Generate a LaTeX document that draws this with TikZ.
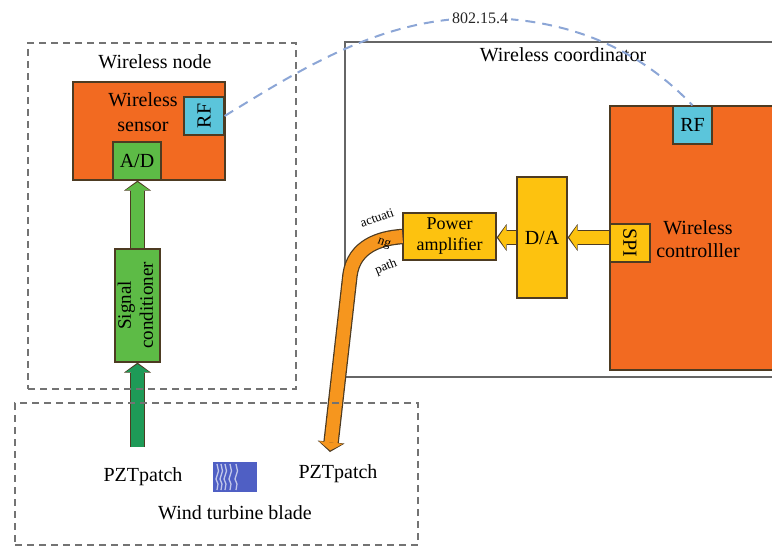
\documentclass[tikz,border=0pt]{standalone}
\usepackage{fontspec}
\setmainfont{Liberation Serif}
\usetikzlibrary{arrows.meta,positioning,calc}
\definecolor{orng}{HTML}{F26A21}
\definecolor{rfc}{HTML}{5BC5DB}
\definecolor{grn}{HTML}{5DBB46}
\definecolor{dgrn}{HTML}{1E9A57}
\definecolor{ylw}{HTML}{FDC20F}
\definecolor{pathc}{HTML}{F6961E}
\definecolor{edge}{HTML}{4D3B22}
\definecolor{wave}{HTML}{8CA6D6}
\definecolor{patch}{HTML}{4F5FC4}
\tikzset{
  blk/.style={draw=edge,fill=#1,line width=1.2pt,inner sep=0pt,align=center,
              font=\fontsize{20}{23}\selectfont},
  grp/.style={draw=black!55,line width=1.6pt,dash pattern=on 7pt off 5pt},
  fat/.style={draw=edge,line width=15.5pt,-{Triangle[width=27pt,length=10pt,line width=0pt]},
              postaction={draw=#1,line width=13pt,shorten >=1.6pt,
                          -{Triangle[width=24pt,length=8pt,line width=0pt]}}},
  lbl/.style={font=\fontsize{20}{24}\selectfont,align=center,inner sep=1pt},
  tiny/.style={font=\fontsize{13}{14}\selectfont,inner sep=0pt},
}

\begin{document}
\begin{tikzpicture}[x=1pt,y=-1pt]
  \useasboundingbox (0,0) rectangle (772,549);
  \clip (0,0) rectangle (772,549);
  % coordinator side
  \node[draw=black!60,line width=1.5pt,minimum width=450pt,minimum height=335pt] (coord) at (570,209.5) {};
  \node[lbl] (coordtxt) at (563,55) {Wireless coordinator};
  \node[blk=orng,minimum width=190pt,minimum height=264pt] (ctrl) at (705,238) {};
  \node[lbl,font=\fontsize{20}{23}\selectfont] (ctrltxt) at (698,239) {Wireless\\controlller};
  \node[blk=rfc,minimum width=39pt,minimum height=38pt] (rf2) at (692.5,125) {RF};
  \node[blk=ylw,minimum width=40pt,minimum height=38pt] (spi) at (630,243) {\rotatebox{-90}{SPI}};
  \node[blk=ylw,minimum width=50pt,minimum height=121pt] (da) at (542,237.5) {D/A};
  \node[blk=ylw,minimum width=93pt,minimum height=47pt,font=\fontsize{18}{21}\selectfont] (pa) at (449.5,236.5) {Power\\amplifier};
  % sensor side
  \node[lbl] (nodetxt) at (155,62) {Wireless node};
  \node[blk=orng,minimum width=152pt,minimum height=98pt] (sensor) at (149,131) {};
  \node[lbl,font=\fontsize{20}{25}\selectfont] (sensortxt) at (143,112) {Wireless\\sensor};
  \node[blk=rfc,minimum width=40pt,minimum height=38pt] (rf1) at (204,116) {\rotatebox{90}{RF}};
  \node[blk=grn,minimum width=48pt,minimum height=38pt] (ad) at (137,161) {A/D};
  \node[blk=grn,minimum width=45pt,minimum height=113pt,font=\fontsize{19}{22}\selectfont] (sc) at (137.5,305.5)
    {\rotatebox{90}{\begin{tabular}{@{}c@{}}Signal\\conditioner\end{tabular}}};
  % blade
  \node[fill=patch,minimum width=44pt,minimum height=30pt,inner sep=0pt] (pzt) at (235,477) {};
  \foreach \x in {217,221,225,230,236}
    \draw[patch!35,line width=1.3pt] (\x,464) -- (\x+1.5,471) -- (\x-1,479) -- (\x+1,484) -- (\x,490);
  \node[lbl] (pztl) at (143,477) {PZTpatch};
  \node[lbl] (pztr) at (338,474) {PZTpatch};
  \node[lbl] (bladetxt) at (235,513) {Wind turbine blade};
  % fat arrows
  \coordinate (gbase) at (137.5,447);
  \coordinate (otip) at (330,452);
  \draw[fat=grn] (sc.north) -- (sc.north |- ad.south);
  \draw[fat=dgrn] (gbase) -- (sc.south);
  \draw[fat=ylw] (spi.west |- da) -- (da.east);
  \draw[fat=ylw] (da.west) -- (da.west -| pa.east);
  \draw[fat=pathc] (pa.west) .. controls (380,238) and (354,246) .. (350,275) -- (otip);
  \node[tiny,rotate=20] (act1) at (377,218) {actuati};
  \node[tiny,rotate=-20] (act2) at (384,244) {ng};
  \node[tiny,rotate=22] (act3) at (386,267) {path};
  % dashed groups
  \node[grp,minimum width=268pt,minimum height=346pt] (wnode) at (162,216) {};
  \node[grp,minimum width=403pt,minimum height=142pt] (blade) at (216.5,474) {};
  % radio link
  \draw[wave,line width=2pt,dash pattern=on 10pt off 7pt]
    (rf1.east) .. controls (300,70) and (380,18) .. (480,18)
    node[fill=white,inner sep=3pt,font=\fontsize{16}{18}\selectfont,text=black!85] (std) {802.15.4}
    .. controls (570,18) and (640,50) .. (rf2.north);
\end{tikzpicture}
\end{document}
